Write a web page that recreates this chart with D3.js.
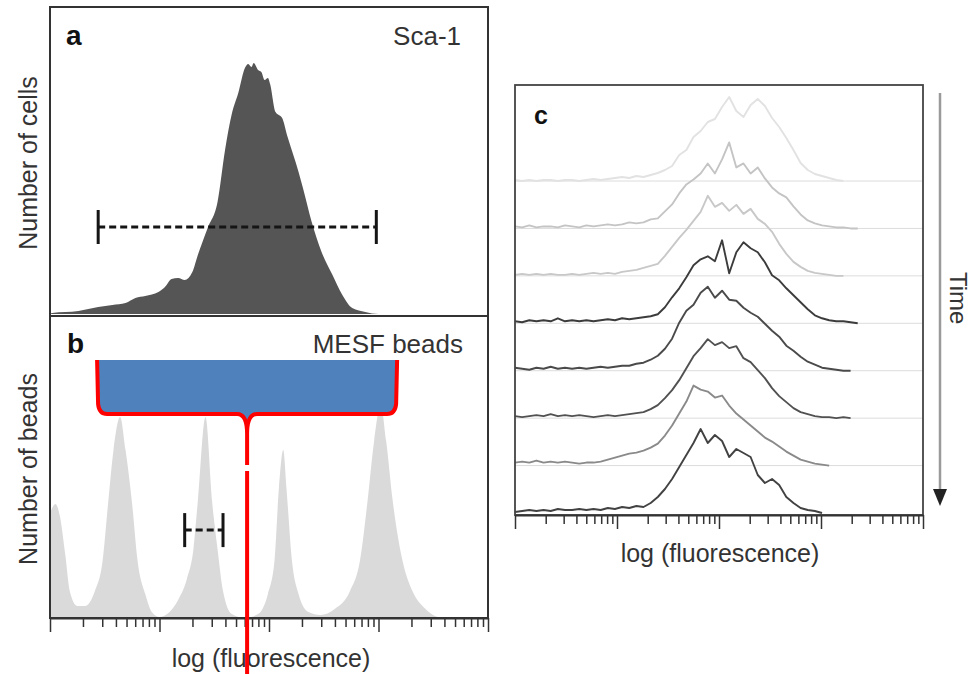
<!DOCTYPE html>
<html>
<head>
<meta charset="utf-8">
<script src="https://d3js.org/d3.v7.min.js"></script>
<style>
  body { margin: 0; background: #fff; }
  text { font-family: "Liberation Sans", Arial, Helvetica, sans-serif; }
</style>
</head>
<body>
<div id="container"></div>
<script>
// ---- data (x values are log10 fluorescence, in decades) ----

// a: Sca-1 histogram, relative number of cells
var cellsX = [0, 0.02, 0.26, 0.44, 0.57, 0.69, 0.78, 0.87, 0.99, 1.05,
  1.11, 1.17, 1.23, 1.30, 1.35, 1.44, 1.53, 1.60, 1.66, 1.72,
  1.78, 1.81, 1.84, 1.86, 1.90, 1.93, 1.96, 1.99, 2.01, 2.06,
  2.12, 2.17, 2.27, 2.31, 2.39, 2.48, 2.58, 2.67, 2.76, 2.88, 3.0, 4.0];
var cellsY = [0, 0.4, 1.2, 2.8, 3.6, 4.4, 6.4, 7.2, 8.8, 10.8,
  14, 14.4, 13.6, 16.8, 23.6, 34.4, 44.8, 66, 80, 88.5,
  98.4, 100, 98.8, 100.4, 97.6, 96.8, 93.6, 94.4, 92, 80.8,
  78.4, 70.8, 56.8, 50.4, 36.8, 24.8, 15.6, 7.6, 2.4, 0.8, 0, 0];
var cellsRange = [0.44, 2.98]; // dashed bar in a
var cellsRangeLevel = 34.8;

// b: MESF calibration beads, relative number of beads
var beadsX = [0, 0.05, 0.09, 0.14, 0.18, 0.25, 0.32, 0.41, 0.48, 0.53,
  0.58, 0.64, 0.69, 0.75, 0.80, 0.87, 0.93, 1.0, 1.07, 1.17,
  1.25, 1.31, 1.35, 1.42, 1.48, 1.53, 1.58, 1.66, 1.78, 1.90,
  1.99, 2.05, 2.09, 2.13, 2.16, 2.21, 2.27, 2.36, 2.47, 2.60,
  2.74, 2.83, 2.90, 2.96, 3.02, 3.07, 3.13, 3.22, 3.31, 3.43, 3.56, 4.0];
var beadsY = [35, 38, 34, 21, 9, 4, 4, 9, 19, 38,
  56, 67, 56, 38, 19, 8, 2, 0.3, 1.3, 6,
  13, 23, 39, 67, 39, 23, 9, 1.3, 0, 1.3,
  8, 19, 43, 56, 43, 19, 8, 2, 1, 3,
  9, 19, 39, 59, 71, 59, 39, 19, 9, 3, 0.3, 0];
var beadsRange = [1.23, 1.58]; // small dashed bar in b
var beadsRangeLevel = 29.3;

// red brace annotation over b
var braceSpan = [0.43, 3.17];
var braceTip = 1.8;
var braceLevels = [86, 68, 51]; // top, bottom edge, tip
var markerLine = [49, -19];

// c: time course, one histogram per time point (null = no events)
var channels = [0, 0.07, 0.14, 0.21, 0.28, 0.35, 0.42, 0.49, 0.56, 0.63,
  0.70, 0.77, 0.84, 0.91, 0.98, 1.05, 1.12, 1.19, 1.26, 1.33,
  1.40, 1.47, 1.54, 1.61, 1.68, 1.75, 1.82, 1.89, 1.96, 2.03,
  2.10, 2.17, 2.24, 2.31, 2.38, 2.45, 2.52, 2.59, 2.66, 2.73,
  2.80, 2.87, 2.94, 3.01, 3.08, 3.15, 3.22, 3.29, 3.36, 3.43, 3.50];
var time1 = [1,0,1,0,1,1,0,1,1,0, 1,2,1,2,3,4,3,5,4,6, 8,11,15,26,31,44,50,59,62,74,
  84,70,64,76,82,75,63,54,43,31, 18,11,7,5,3,1,0,null,null,null,null];
var time2 = [2,1,3,1,2,2,1,3,2,1, 3,2,3,4,3,4,6,5,6,9, 10,17,24,35,44,49,55,65,55,69,
  86,61,65,55,61,50,41,35,31,22, 14,8,5,3,2,1,1,0,0,null,null];
var time3 = [1,2,1,2,1,2,1,1,2,1, 2,3,2,3,2,4,5,6,8,10, 12,20,29,38,46,55,64,80,69,73,
  65,71,62,67,57,52,44,32,22,14, 9,5,3,2,1,0,0,null,null,null,null];
var time4 = [2,1,3,2,3,2,5,2,3,2, 3,2,3,4,3,5,4,5,6,7, 9,16,26,35,46,58,64,67,62,83,
  50,71,81,75,71,61,48,43,35,28, 21,14,8,5,3,2,2,1,0,null,null];
var time5 = [3,2,1,3,2,4,2,3,2,3, 2,3,4,3,4,5,5,7,8,11, 15,22,32,48,60,66,78,84,73,80,
  71,70,63,58,54,47,40,34,25,20, 14,9,6,3,2,1,0,0,null,null,null];
var time6 = [2,1,2,3,2,4,2,3,2,3, 2,1,2,3,2,3,4,5,6,9, 13,20,28,38,50,62,70,79,73,76,
  70,72,60,56,48,40,30,22,16,10, 6,4,2,1,1,0,1,0,null,null,null];
var time7 = [3,4,3,5,3,4,3,4,3,2, 3,3,4,6,8,10,12,13,15,18, 22,30,40,52,64,80,76,74,68,70,
  60,52,46,40,34,28,24,19,14,10, 6,4,2,1,0,null,null,null,null,null,null];
var time8 = [1,2,3,2,3,2,4,3,3,4, 3,4,3,5,4,6,5,7,6,10, 16,24,34,46,58,70,84,70,78,72,
  56,64,60,56,38,30,34,28,16,10, 5,3,2,0,null,null,null,null,null,null,null];
var timeSeries = [time1, time2, time3, time4, time5, time6, time7, time8];
var timeColors = ["#e2e2e2", "#c4c4c4", "#c8c8c8", "#3c3c3c", "#4a4a4a", "#515151", "#8a8a8a", "#424242"];

// ---- layout ----
var width = 971, height = 674;
var svg = d3.select("#container").append("svg")
  .attr("width", width)
  .attr("height", height);

var font = "'Liberation Sans', Arial, Helvetica, sans-serif";
var ink = "#333";

// scales for a and b
var xAB = d3.scaleLinear().domain([0, 4]).range([50, 488]);
var logAB = d3.scaleLog().domain([1, 1e4]).range(xAB.range());
var yA = d3.scaleLinear().domain([0, 100]).range([314, 64]);
var yB = d3.scaleLinear().domain([0, 100]).range([618, 318]);

// scales for c
var xC = d3.scaleLinear().domain([0, 4]).range([515, 923]);
var logC = d3.scaleLog().domain([1, 1e4]).range(xC.range());
var baseC = d3.scaleLinear().domain([0, timeSeries.length - 1]).range([181, 513]);
var hC = d3.scaleLinear().domain([0, 100]).range([0, 100]);

function isDecade(v) {
  var l = Math.log10(v);
  return Math.abs(l - Math.round(l)) < 1e-6;
}

function logAxis(g, scale) {
  g.attr("color", ink)
    .call(d3.axisBottom(scale).tickValues(scale.ticks()).tickFormat("").tickSizeOuter(0));
  g.select(".domain").attr("stroke-width", 2);
  g.selectAll(".tick line")
    .attr("stroke-width", 1.5)
    .attr("y2", function (d) { return isDecade(d) ? 14 : 9; });
}

function errorBar(range, yPos, scaleX) {
  var g = svg.append("g").attr("stroke", "#151515").attr("stroke-width", 3);
  g.append("line")
    .attr("x1", scaleX(range[0])).attr("x2", scaleX(range[1]))
    .attr("y1", yPos).attr("y2", yPos)
    .attr("stroke-dasharray", "7,4");
  range.forEach(function (v) {
    g.append("line")
      .attr("x1", scaleX(v)).attr("x2", scaleX(v))
      .attr("y1", yPos - 17).attr("y2", yPos + 17);
  });
}

// ---- panel a ----
var cells = cellsX.map(function (x, i) { return { x: x, y: cellsY[i] }; });
svg.append("path")
  .datum(cells)
  .attr("fill", "#555")
  .attr("d", d3.area()
    .curve(d3.curveMonotoneX)
    .x(function (d) { return xAB(d.x); })
    .y0(yA(0))
    .y1(function (d) { return yA(d.y); }));

errorBar(cellsRange, yA(cellsRangeLevel), xAB);

// ---- panel b ----
var beads = beadsX.map(function (x, i) { return { x: x, y: beadsY[i] }; });
svg.append("path")
  .datum(beads)
  .attr("fill", "#dadada")
  .attr("d", d3.area()
    .curve(d3.curveMonotoneX)
    .x(function (d) { return xAB(d.x); })
    .y0(yB(0))
    .y1(function (d) { return yB(d.y); }));

errorBar(beadsRange, yB(beadsRangeLevel), xAB);

// frames of a and b
svg.append("rect")
  .attr("x", xAB(0)).attr("y", 7)
  .attr("width", xAB(4) - xAB(0)).attr("height", 316 - 7)
  .attr("fill", "none").attr("stroke", ink).attr("stroke-width", 2);
svg.append("rect")
  .attr("x", xAB(0)).attr("y", 316)
  .attr("width", xAB(4) - xAB(0)).attr("height", yB(0) - 316)
  .attr("fill", "none").attr("stroke", ink).attr("stroke-width", 2);

svg.append("g")
  .attr("transform", "translate(0," + yB(0) + ")")
  .call(logAxis, logAB);

// brace annotation
var bl = xAB(braceSpan[0]), br = xAB(braceSpan[1]), bc = xAB(braceTip);
var bt = yB(braceLevels[0]), bb = yB(braceLevels[1]), bp = yB(braceLevels[2]);
var fillPath = d3.path();
fillPath.moveTo(bl, bt);
fillPath.lineTo(bl + 1, bb - 10);
fillPath.quadraticCurveTo(bl + 2, bb, bl + 10, bb);
fillPath.lineTo(bc - 10, bb);
fillPath.quadraticCurveTo(bc, bb, bc, bb + 20);
fillPath.quadraticCurveTo(bc, bb, bc + 10, bb);
fillPath.lineTo(br - 10, bb);
fillPath.quadraticCurveTo(br - 2, bb, br - 1, bb - 10);
fillPath.lineTo(br, bt);
fillPath.closePath();
svg.append("path").attr("d", fillPath.toString()).attr("fill", "#4f81bd");

var bracePath = d3.path();
bracePath.moveTo(bl, bt);
bracePath.lineTo(bl + 1, bb - 10);
bracePath.quadraticCurveTo(bl + 2, bb, bl + 10, bb);
bracePath.lineTo(bc - 10, bb);
bracePath.quadraticCurveTo(bc, bb, bc, bb + 20);
bracePath.lineTo(bc, bp);
bracePath.moveTo(bc, bb + 20);
bracePath.quadraticCurveTo(bc, bb, bc + 10, bb);
bracePath.lineTo(br - 10, bb);
bracePath.quadraticCurveTo(br - 2, bb, br - 1, bb - 10);
bracePath.lineTo(br, bt);
svg.append("path")
  .attr("d", bracePath.toString())
  .attr("fill", "none")
  .attr("stroke", "#ff0000")
  .attr("stroke-width", 4)
  .attr("stroke-linejoin", "round");

// ---- panel c ----
svg.append("g")
  .selectAll("line")
  .data(timeSeries.slice(0, timeSeries.length - 1))
  .enter()
  .append("line")
  .attr("x1", xC(0)).attr("x2", xC(4))
  .attr("y1", function (d, i) { return baseC(i); })
  .attr("y2", function (d, i) { return baseC(i); })
  .attr("stroke", "#dcdcdc")
  .attr("stroke-width", 1);

svg.append("g")
  .selectAll("path")
  .data(timeSeries)
  .enter()
  .append("path")
  .attr("fill", "none")
  .attr("stroke", function (d, i) { return timeColors[i]; })
  .attr("stroke-width", 1.9)
  .attr("stroke-linejoin", "round")
  .attr("d", function (series, i) {
    return d3.line()
      .defined(function (v) { return v !== null; })
      .x(function (v, j) { return xC(channels[j]); })
      .y(function (v) { return baseC(i) - hC(v); })(series);
  });

svg.append("rect")
  .attr("x", xC(0)).attr("y", 85)
  .attr("width", xC(4) - xC(0)).attr("height", 515 - 85)
  .attr("fill", "none").attr("stroke", "#444").attr("stroke-width", 1.8);

svg.append("g")
  .attr("transform", "translate(0,515)")
  .call(logAxis, logC);

// time arrow
svg.append("line")
  .attr("x1", 940).attr("x2", 940)
  .attr("y1", 93).attr("y2", 492)
  .attr("stroke", "#9a9a9a").attr("stroke-width", 2.5);
svg.append("path")
  .attr("d", "M933,489L947,489L940,506Z")
  .attr("fill", "#222");

// ---- text ----
function label(txt, x, y, opts) {
  opts = opts || {};
  return svg.append("text")
    .attr("x", x).attr("y", y)
    .attr("font-family", font)
    .attr("font-size", opts.size || 25)
    .attr("font-weight", opts.bold ? "bold" : "normal")
    .attr("fill", opts.color || ink)
    .attr("text-anchor", opts.anchor || "start")
    .attr("transform", opts.transform || null)
    .text(txt);
}

label("a", 66, 45, { size: 28, bold: true, color: "#111" });
label("Sca-1", 461, 45, { size: 26, anchor: "end" });
label("b", 67, 353, { size: 28, bold: true, color: "#111" });
label("MESF beads", 463, 353, { size: 26, anchor: "end" });
label("c", 534, 124, { size: 25, bold: true, color: "#111" });

label("Number of cells", 0, 0, { anchor: "middle", transform: "translate(37,163) rotate(-90)" });
label("Number of beads", 0, 0, { anchor: "middle", transform: "translate(37,469) rotate(-90)" });
label("log (fluorescence)", 271, 667, { anchor: "middle" });
label("log (fluorescence)", 720, 562, { anchor: "middle" });
label("Time", 0, 0, { size: 24, transform: "translate(950,272) rotate(90)" });

// red marker line drawn last so it crosses the axis label
svg.append("line")
  .attr("x1", xAB(braceTip)).attr("x2", xAB(braceTip))
  .attr("y1", yB(markerLine[0])).attr("y2", yB(markerLine[1]))
  .attr("stroke", "#ff0000")
  .attr("stroke-width", 4);
</script>
</body>
</html>
